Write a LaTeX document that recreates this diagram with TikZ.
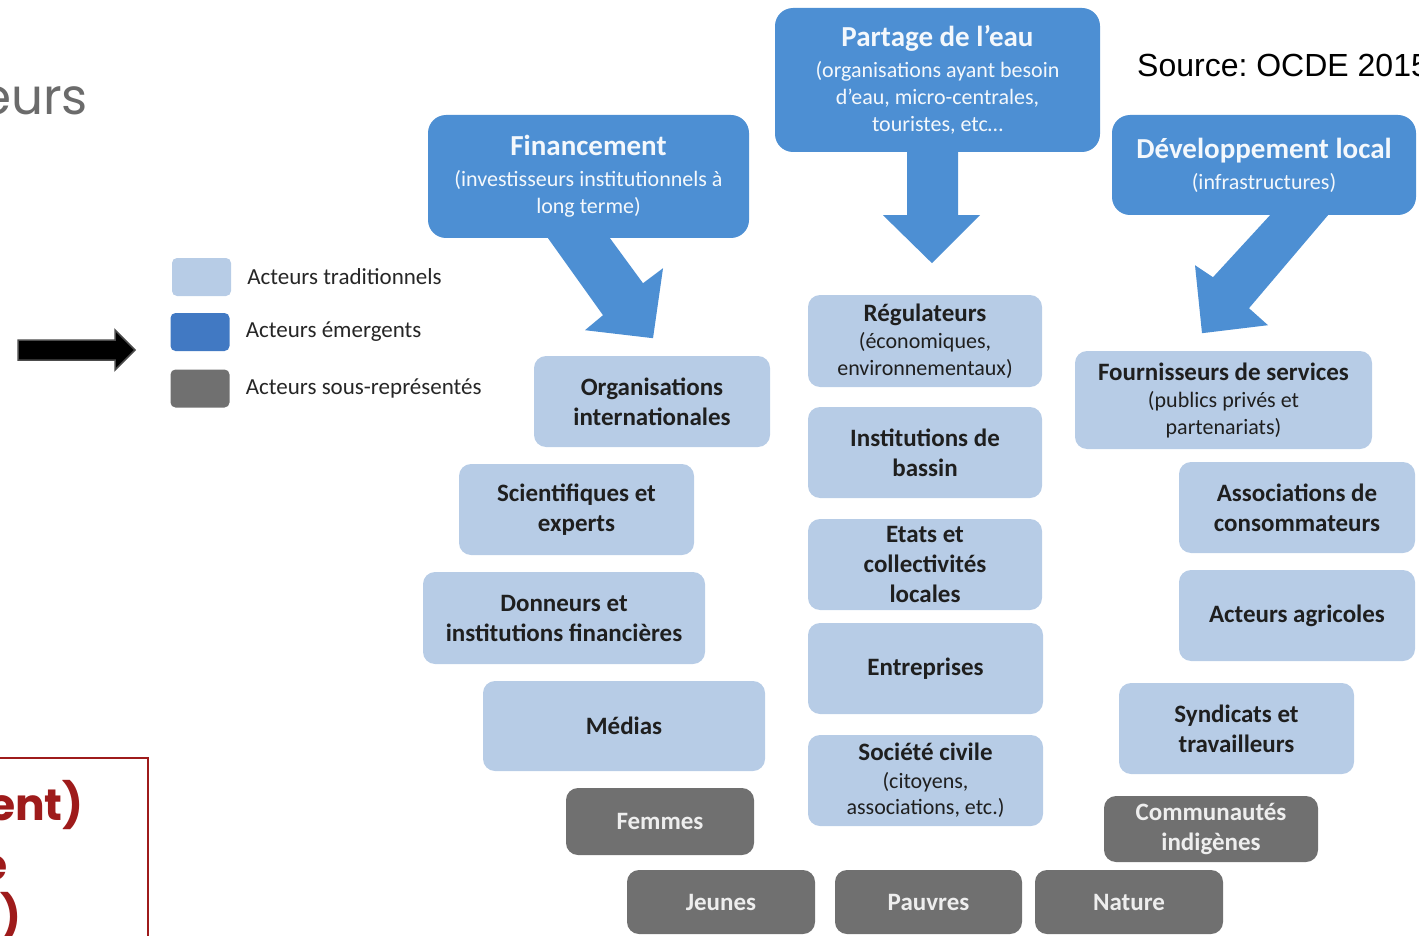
\documentclass[tikz,border=0pt]{standalone}
\usepackage{fontspec}
\setmainfont{Carlito}
\newfontfamily\srcfont{Liberation Sans}
\newfontfamily\slidefont{Poppins}
\usetikzlibrary{
  positioning,  % legend labels [right=of ...]
  calc,
}
\definecolor{traditional}{HTML}{B7CCE6}
\definecolor{emerging}{HTML}{4D8FD3}
\definecolor{underrep}{HTML}{707070}
\definecolor{legendblue}{HTML}{4179C3}
\definecolor{slidered}{HTML}{9E1B1B}
\definecolor{slidegray}{HTML}{6B6B6B}
\newcommand{\subtxt}{\mdseries\fontsize{22}{27}\selectfont}
\frenchspacing
\tikzset{
  x=1pt,
  y=-1pt,
  actor/.style={
    rectangle,
    align=center,
    inner sep=2pt,
    rounded corners=12pt,
    text=black!88,
    font=\bfseries\fontsize{25}{30}\selectfont
  },
  trad/.style={
    actor,
    fill=traditional
  },
  % boxes with a title and smaller lines below
  with sub/.style={
    font=\bfseries\fontsize{25}{26.5}\selectfont
  },
  emerg/.style={
    actor,
    fill=emerging,
    text=white!94!emerging,
    rounded corners=18pt,
    font=\bfseries\fontsize{29}{27}\selectfont
  },
  under/.style={
    actor,
    fill=underrep,
    text=white!88!underrep
  },
  % box sizes in px of the slide
  box/.style 2 args={
    minimum width=#1pt,
    minimum height=#2pt
  },
  legend box/.style={
    rectangle,
    rounded corners=5pt,
    minimum width=59pt,
    minimum height=38pt
  },
  legend text/.style={
    inner sep=0pt,
    text=black!85,
    font=\fontsize{23}{28}\selectfont
  },
  block arrow/.style={
    fill=emerging
  },
  pointer/.style={
    fill=black,
    draw=black!70,
    line width=1.5pt
  }
}
\begin{document}
\begin{tikzpicture}
\useasboundingbox (0,0) rectangle (1419,936);

% slide leftovers
\node[anchor=base east, inner sep=0pt, text=slidegray,
      font=\slidefont\fontsize{50}{56}\selectfont] (title) at (88,115) {eurs};
\node[anchor=base west, inner sep=0pt,
      font=\srcfont\fontsize{32}{38}\selectfont] (source) at (1137,77) {Source: OCDE 2015};
\coordinate (boxtop) at (-5,758);
\coordinate (boxcorner) at (148,758);
\coordinate (boxbottom) at (148,945);
\draw[slidered, line width=2pt] (boxtop) -- (boxcorner) -- (boxbottom);
\begin{scope}[every node/.style={anchor=base east, inner sep=0pt, text=slidered,
      font=\slidefont\bfseries\fontsize{44}{50}\selectfont}]
\node (red1) at (84,820) {gouvernement)};
\node (red2) at (8,880) {de};
\node (red3) at (22,932) {)};
\end{scope}

% pointer
\coordinate (ptrtail) at (18,350);
\coordinate (ptrtip)  at (135,350);
\draw[pointer] (ptrtail) ++(0,-10) -- ++(97,0) -- ++(0,-10) -- (ptrtip)
  -- ++(-20,20) -- ++(0,-10) -- ++(-97,0) -- cycle;

% legend
\node[legend box, fill=traditional] (leg1) at (201.5,277) {};
\node[legend box, fill=legendblue]  (leg2) at (200,332) {};
\node[legend box, fill=underrep]    (leg3) at (200,388.5) {};
\node[legend text] (legt1) [right=16pt of leg1] {Acteurs traditionnels};
\node[legend text] (legt2) [right=16pt of leg2] {Acteurs émergents};
\node[legend text] (legt3) [right=16pt of leg3] {Acteurs sous-représentés};

% emerging actors
\node[emerg, box={325}{144}] (eau) at (937.5,80)
  {Partage de l’eau\\[4pt]\subtxt (organisations ayant besoin\\\subtxt d’eau, micro-centrales,\\\subtxt touristes, etc…};
\node[emerg, box={321}{123}] (fin) at (588.5,176.5)
  {Financement\\[4pt]\subtxt (investisseurs institutionnels à\\\subtxt long terme)};
\node[emerg, box={304}{100}] (dev) at (1264,165)
  {Développement local\\[4pt]\subtxt (infrastructures)};

% big arrows
\fill[block arrow, shift={(fin.south)}] (-40.5,0) -- (21.5,0) -- (54.5,45) -- (74.5,30)
  -- (64.5,100) -- (-3.5,92) -- (14.5,77) -- cycle;
\fill[block arrow, shift={(eau.south)}] (-30.5,0) -- (20.5,0) -- (20.5,63) -- (42.5,63)
  -- (-5.5,111) -- (-54.5,63) -- (-30.5,63) -- cycle;
\fill[block arrow, shift={(dev.south)}] (64,0) -- (6,0) -- (-51,62) -- (-69,50)
  -- (-62,118) -- (4,110) -- (-15,93) -- cycle;

% left column
\node[trad, box={236}{91}] (orgint) at (652,401.5) {Organisations\\internationales};
\node[trad, box={235}{91}] (sci)    at (576.5,509.5) {Scientifiques et\\experts};
\node[trad, box={282}{92}] (donn)   at (564,618) {Donneurs et\\institutions financières};
\node[trad, box={282}{90}] (medias) at (624,726) {Médias};

% middle column
\node[trad, with sub, box={234}{92}] (regul)  at (925,341)
  {Régulateurs\\[1pt]\subtxt (économiques,\\\subtxt environnementaux)};
\node[trad, box={234}{91}] (bassin) at (925,452.5) {Institutions de\\bassin};
\node[trad, box={234}{91}] (etats)  at (925,564.5) {Etats et\\collectivités\\locales};
\node[trad, box={235}{91}] (entr)   at (925.5,668.5) {Entreprises};
\node[trad, with sub, box={235}{91}] (civ)    at (925.5,780.5)
  {Société civile\\[1pt]\subtxt (citoyens,\\\subtxt associations, etc.)};

% right column
\node[trad, with sub, box={297}{98}] (fourn)  at (1223.5,400)
  {Fournisseurs de services\\[1pt]\subtxt (publics privés et\\\subtxt partenariats)};
\node[trad, box={236}{91}] (assoc)  at (1297,507.5) {Associations de\\consommateurs};
\node[trad, box={236}{91}] (agri)   at (1297,615.5) {Acteurs agricoles};
\node[trad, box={235}{91}] (synd)   at (1236.5,728.5) {Syndicats et\\travailleurs};

% under-represented actors
\node[under, box={188}{67}] (femmes)  at (660,821.5) {Femmes};
\node[under, box={214}{66}] (indig)   at (1211,829) {Communautés\\indigènes};
\node[under, box={188}{64}] (jeunes)  at (721,902) {Jeunes};
\node[under, box={187}{64}] (pauvres) at (928.5,902) {Pauvres};
\node[under, box={188}{64}] (nature)  at (1129,902) {Nature};
\end{tikzpicture}
\end{document}
